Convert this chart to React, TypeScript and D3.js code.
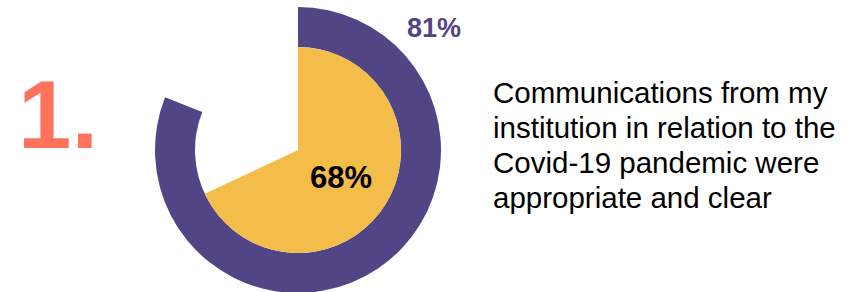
import React, { useEffect, useRef } from 'react';
import * as d3 from 'd3';

// values
const ringValue = 81;
const pieValue = 68;
const itemNumber = '1.';
const statementLines = [
  'Communications from my',
  'institution in relation to the',
  'Covid-19 pandemic were',
  'appropriate and clear',
];

const PURPLE = '#524586';
const YELLOW = '#F4BD4A';
const CORAL = '#FF725C';

export default function App() {
  const svgRef = useRef<SVGSVGElement>(null);

  useEffect(() => {
    const svg = d3.select(svgRef.current);
    svg.selectAll('*').remove();

    const cx = 298;
    const cy = 150;
    const outerR = 143;
    const innerR = 103;
    const pieR = 103;

    const angle = d3.scaleLinear().domain([0, 100]).range([0, 2 * Math.PI]);

    const g = svg.append('g').attr('transform', `translate(${cx},${cy})`);

    // outer ring (81%)
    g.append('path')
      .attr('d', d3.arc()({ innerRadius: innerR, outerRadius: outerR, startAngle: 0, endAngle: angle(ringValue) }) as string)
      .attr('fill', PURPLE);

    // inner pie (68%)
    g.append('path')
      .attr('d', d3.arc()({ innerRadius: 0, outerRadius: pieR, startAngle: 0, endAngle: angle(pieValue) }) as string)
      .attr('fill', YELLOW);

    const font = 'Liberation Sans, Arial, sans-serif';

    svg.append('text')
      .attr('x', 18)
      .attr('y', 148)
      .attr('font-family', font)
      .attr('font-weight', 'bold')
      .attr('font-size', 96)
      .attr('fill', CORAL)
      .text(itemNumber);

    svg.append('text')
      .attr('x', 434)
      .attr('y', 37)
      .attr('text-anchor', 'middle')
      .attr('font-family', font)
      .attr('font-weight', 'bold')
      .attr('font-size', 27)
      .attr('fill', PURPLE)
      .text(`${ringValue}%`);

    svg.append('text')
      .attr('x', 341)
      .attr('y', 188)
      .attr('text-anchor', 'middle')
      .attr('font-family', font)
      .attr('font-weight', 'bold')
      .attr('font-size', 31)
      .attr('fill', '#000')
      .text(`${pieValue}%`);

    svg.append('g')
      .selectAll('text')
      .data(statementLines)
      .join('text')
      .attr('x', 493)
      .attr('y', (d, i) => 103 + i * 35)
      .attr('font-family', font)
      .attr('font-size', 29.5)
      .attr('fill', '#000')
      .text(d => d);
  }, []);

  return (
    <svg
      ref={svgRef}
      width={854}
      height={292}
      style={{ position: 'absolute', left: 0, top: 0, background: '#fff' }}
    />
  );
}
